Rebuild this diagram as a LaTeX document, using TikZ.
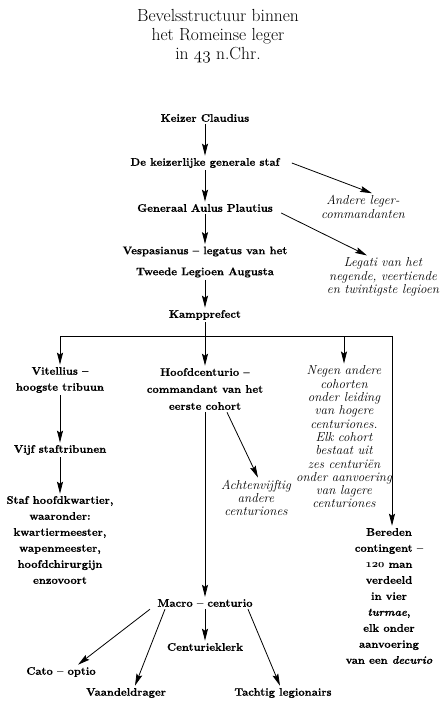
\documentclass[tikz,border=0pt]{standalone}
\usepackage{fontspec}
\usetikzlibrary{arrows.meta}

\newfontfamily\rankfont{lmroman10-bold}[Extension=.otf, Ligatures=TeX, FakeBold=0.5, ItalicFont=lmroman10-bolditalic]
\newcommand\osnum[1]{{\usefont{OML}{cmm}{m}{it}#1}}
\newcommand\osnumbold[1]{{\usefont{OML}{cmm}{b}{it}#1}}

\tikzset{
    >={Stealth[length=12pt,width=6pt,inset=2pt]},
    rank/.style={align=center,inner sep=2pt,font=\rankfont\fontsize{11}{16}\selectfont},
    side/.style={align=center,inner sep=2pt,font=\itshape\fontsize{13}{13.3}\selectfont},
}

\begin{document}
\begin{tikzpicture}[x=1pt,y=-1pt,line width=0.8pt]
\useasboundingbox (0,0) rectangle (443,707);

\node[align=center,font=\fontsize{17.5}{19}\selectfont] (T) at (218,36)
    {Bevelsstructuur binnen\\het Romeinse leger\\in \osnum{43} n.Chr.};

\begin{scope}[every node/.style={rank}]
    \node (KC) at (205,118) {Keizer Claudius};
    \node (KS) at (205,163) {De keizerlijke generale staf};
    \node (AP) at (205,208) {Generaal Aulus Plautius};
    \node[font=\rankfont\fontsize{11}{21}\selectfont] (VE) at (205,262) {Vespasianus -- legatus van het\\Tweede Legioen Augusta};
    \node (KP) at (205,315) {Kampprefect};
    \node (VI) at (60,380) {Vitellius --\\hoogste tribuun};
    \node (VS) at (60,450) {Vijf staftribunen};
    \node (SH) at (60,540) {Staf hoofdkwartier,\\waaronder:\\kwartiermeester,\\wapenmeester,\\hoofdchirurgijn\\enzovoort};
    \node[font=\rankfont\fontsize{11}{17}\selectfont] (HC) at (205,389) {Hoofdcenturio --\\commandant van het\\eerste cohort};
    \node (BC) at (389,596) {Bereden\\contingent --\\\osnumbold{120} man\\verdeeld\\in vier\\\textit{turmae},\\elk onder\\aanvoering\\van een \textit{decurio}};
    \node (MC) at (205,603) {Macro -- centurio};
    \node (CO) at (61,672) {Cato -- optio};
    \node (VD) at (126,693) {Vaandeldrager};
    \node (CK) at (205,647) {Centurieklerk};
    \node (TL) at (283,693) {Tachtig legionairs};
\end{scope}

\begin{scope}[every node/.style={side}]
    \node (AL) at (363,207) {Andere leger-\\commandanten};
    \node (LE) at (383,277) {Legati van het\\negende, veertiende\\en twintigste legioen};
    \node (AC) at (256,498) {Achtenvijftig\\andere\\centuriones};
    \node (NC) at (344,437) {Negen andere\\cohorten\\onder leiding\\van hogere\\centuriones.\\Elk cohort\\bestaat uit\\zes centuriën\\onder aanvoering\\van lagere\\centuriones};
\end{scope}

\coordinate (J) at (205,336);
\coordinate (JL) at (60,336);
\coordinate (JN) at (344,336);
\coordinate (JR) at (392,336);

% hoofdlijn
\path [->] (KC) edge (KS);
\path [->] (KS) edge (AP);
\path [->] (AP) edge (VE);
\path [->] (VE) edge (KP);
\path [->] ([xshift=10pt]KS.east) edge ([xshift=9pt]AL.north);
\path [->] ([xshift=6pt,yshift=-5pt]AP.east) edge ([xshift=-16pt]LE.north);
% legioen
\draw (KP) -- (J);
\draw (JL) -- (JR);
\path [->] (JL) edge (VI);
\path [->] (J) edge (HC);
\path [->] (JN) edge (NC);
\path [->] (JR) edge (JR |- BC.north);
\path [->] (VI) edge (VS);
\path [->] (VS) edge (SH);
\path [->] ([xshift=22pt]HC.south) edge ([xshift=2pt]AC.north);
\path [->] (HC) edge (MC);
% centurie
\path [->] ([xshift=-55pt]MC.south) edge ([xshift=17pt]CO.north);
\path [->] ([xshift=-40pt]MC.south) edge ([xshift=9pt]VD.north);
\path [->] (MC) edge (CK);
\path [->] ([xshift=43pt]MC.south) edge ([xshift=-3pt]TL.north);
\end{tikzpicture}
\end{document}
